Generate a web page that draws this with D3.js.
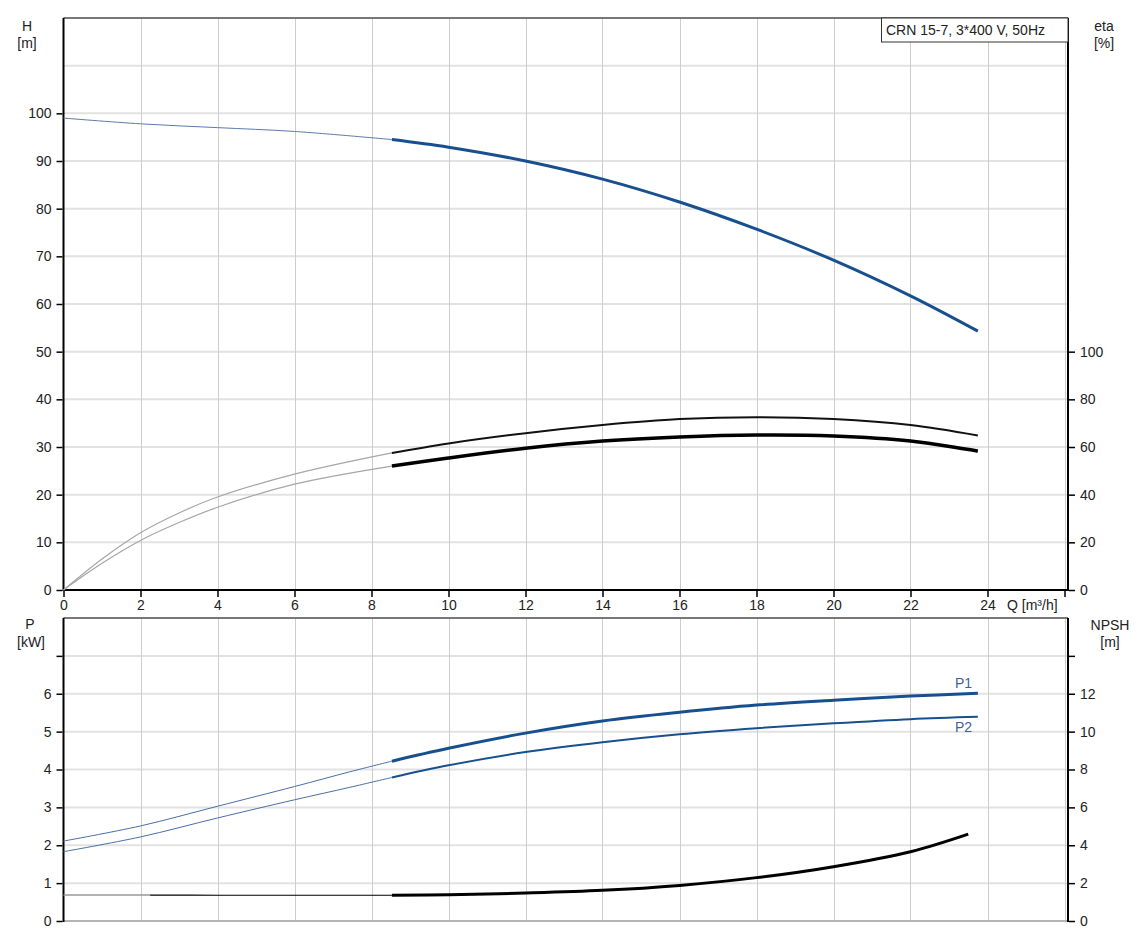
<!DOCTYPE html>
<html><head><meta charset="utf-8">
<script src="https://cdn.jsdelivr.net/npm/d3@7"></script>
<style>
body{margin:0;background:#fff;}
text{font-family:"Liberation Sans",Arial,sans-serif;font-size:14px;fill:#222;}
</style></head>
<body>
<svg id="c" width="1139" height="942"></svg>
<script>
// ---- data ----
const qTicks = [0,2,4,6,8,10,12,14,16,18,20,22,24,26];
const qLabels = ["0","2","4","6","8","10","12","14","16","18","20","22","24",""];
const hTicks = [0,10,20,30,40,50,60,70,80,90,100];
const etaTicks = [0,20,40,60,80,100];
const pTicks = [0,1,2,3,4,5,6,7];
const pLabels = ["0","1","2","3","4","5","6",""];
const npshTicks = [0,2,4,6,8,10,12,14];
const npshLabels = ["0","2","4","6","8","10","12",""];

const splitQ = 8.53;
const qH = [0,2,4,6,8.53,10,12,14,16,18,20,22,23.75];
const headH = [99.0,97.8,97.0,96.2,94.5,92.9,90.0,86.2,81.4,75.7,69.2,61.7,54.3];

const qEta = [0,1,2,3,4,6,8.53,10,12,14,16,18,20,22,23.75];
const etaUpper = [0,13,24,32.3,39,48.6,57.5,61.5,65.8,69.2,71.7,72.5,71.7,69.2,64.8];
const etaLower = [0,11.2,20.8,28.3,34.7,44.4,52,55.4,59.5,62.5,64.2,65,64.6,62.5,58.3];

const qP = [0,2,4,6,7.44,8.53,10,12,14,16,18,20,22,23.75];
const p1 = [2.11,2.51,3.03,3.55,3.94,4.22,4.56,4.96,5.28,5.51,5.70,5.83,5.94,6.01];
const p2 = [1.83,2.22,2.72,3.20,3.53,3.79,4.11,4.46,4.72,4.93,5.09,5.22,5.33,5.39];

const qN = [0,2.25,4,6,8.53,10,12,14,16,18,20,22,23.5];
const npsh = [1.37,1.37,1.36,1.36,1.36,1.39,1.48,1.62,1.88,2.29,2.87,3.66,4.59];
const npshGrayEnd = 2.25;

const title = "CRN 15-7, 3*400 V, 50Hz";

// ---- layout ----
const svg = d3.select("#c");
const L = 63.5, R = 1068;
const x = d3.scaleLinear().domain([0,26]).range([L, 1064.5]);
const T1 = 18, B1 = 590;
const yH = d3.scaleLinear().domain([0,120]).range([B1, T1]);
const yEta = d3.scaleLinear().domain([0,240]).range([B1, T1]);
const T2 = 618, B2 = 921;
const yP = d3.scaleLinear().domain([0,8]).range([B2, T2]);
const yN = d3.scaleLinear().domain([0,16]).range([B2, T2]);

const blue = "#18508f";

function grid(yScale, vals, top, bottom){
  const g = svg.append("g");
  g.selectAll(".h").data(vals).enter().append("line")
    .attr("x1", L).attr("x2", R)
    .attr("y1", d=>yScale(d)).attr("y2", d=>yScale(d))
    .attr("stroke", "#e2e2e2").attr("stroke-width", 2);
  g.selectAll(".v").data(qTicks.slice(1)).enter().append("line")
    .attr("x1", d=>Math.round(x(d))+0.5).attr("x2", d=>Math.round(x(d))+0.5)
    .attr("y1", top).attr("y2", bottom)
    .attr("stroke", "#cdcdcd").attr("stroke-width", 1);
}
grid(yH, d3.range(10,121,10), T1, B1);
grid(yP, d3.range(1,9,1), T2, B2);

// ---- frames ----
function frame(top, bottom, bottomColor){
  svg.append("line").attr("x1",L).attr("x2",R).attr("y1",top).attr("y2",top)
    .attr("stroke","#555").attr("stroke-width",1.5);
  svg.append("line").attr("x1",L).attr("x2",R).attr("y1",bottom).attr("y2",bottom)
    .attr("stroke",bottomColor).attr("stroke-width",2);
  svg.append("line").attr("x1",L).attr("x2",L).attr("y1",top).attr("y2",bottom+1)
    .attr("stroke","#000").attr("stroke-width",2);
  svg.append("line").attr("x1",R).attr("x2",R).attr("y1",top).attr("y2",bottom+1)
    .attr("stroke","#000").attr("stroke-width",2);
}
frame(T1, B1, "#000");
frame(T2, B2, "#b4b4b4");

// ---- axes ----
function styleAxis(g){
  g.select(".domain").remove();
  g.selectAll(".tick line").attr("stroke","#000").attr("stroke-width",1.5);
  g.selectAll(".tick text").attr("fill","#222").style("font-size","14px")
    .style("font-family","'Liberation Sans',Arial,sans-serif");
}
svg.append("g").attr("transform",`translate(${L-1},0)`)
  .call(d3.axisLeft(yH).tickValues(hTicks).tickSize(6).tickPadding(5)).call(styleAxis);
svg.append("g").attr("transform",`translate(${R+1},0)`)
  .call(d3.axisRight(yEta).tickValues(etaTicks).tickSize(6).tickPadding(5)).call(styleAxis);
svg.append("g").attr("transform",`translate(0,${B1+1})`)
  .call(d3.axisBottom(x).tickValues(qTicks).tickFormat((d,i)=>qLabels[i]).tickSize(6).tickPadding(3)).call(styleAxis);
svg.append("g").attr("transform",`translate(${L-1},0)`)
  .call(d3.axisLeft(yP).tickValues(pTicks).tickFormat((d,i)=>pLabels[i]).tickSize(6).tickPadding(5)).call(styleAxis);
svg.append("g").attr("transform",`translate(${R+1},0)`)
  .call(d3.axisRight(yN).tickValues(npshTicks).tickFormat((d,i)=>npshLabels[i]).tickSize(6).tickPadding(5)).call(styleAxis);

// ---- axis titles ----
function label(txt, cx, y, anchor){
  svg.append("text").attr("x",cx).attr("y",y).attr("text-anchor",anchor||"middle").text(txt);
}
label("H", 27, 31); label("[m]", 27, 48);
label("eta", 1104, 31); label("[%]", 1104, 48);
label("P", 30, 629); label("[kW]", 31, 647);
label("NPSH", 1110, 630); label("[m]", 1110, 647);
label("Q [m³/h]", 1007, 610, "start");

// ---- title box ----
svg.append("rect").attr("x",881.5).attr("y",T1).attr("width",R-881.5).attr("height",24)
  .attr("fill","#fff").attr("stroke","#333").attr("stroke-width",1);
label(title, 886, 35, "start");

// ---- curves ----
function draw(qs, vs, yScale, from, to, color, width){
  const pts = qs.map((q,i)=>[q,vs[i]]).filter(p=>p[0]>=from-1e-9 && p[0]<=to+1e-9);
  const line = d3.line().x(d=>x(d[0])).y(d=>yScale(d[1])).curve(d3.curveCatmullRom.alpha(0.5));
  svg.append("path").attr("d", line(pts)).attr("fill","none")
    .attr("stroke",color).attr("stroke-width",width).attr("stroke-linecap","butt");
}
// H
draw(qH, headH, yH, 0, splitQ, "#5a7bab", 1);
draw(qH, headH, yH, splitQ, 99, blue, 3);
// eta
draw(qEta, etaUpper, yEta, 0, splitQ, "#a6a6a6", 1.2);
draw(qEta, etaLower, yEta, 0, splitQ, "#a6a6a6", 1.2);
draw(qEta, etaUpper, yEta, splitQ, 99, "#111", 2);
draw(qEta, etaLower, yEta, splitQ, 99, "#000", 3.5);
// P
draw(qP, p1, yP, 0, splitQ, "#4a6fa5", 1);
draw(qP, p2, yP, 0, splitQ, "#4a6fa5", 1);
draw(qP, p1, yP, splitQ, 99, blue, 3);
draw(qP, p2, yP, splitQ, 99, blue, 2);
// NPSH
draw(qN, npsh, yN, 0, npshGrayEnd, "#999", 1.5);
draw(qN, npsh, yN, npshGrayEnd, splitQ, "#000", 1.2);
draw(qN, npsh, yN, splitQ, 99, "#000", 3);

// curve labels
svg.append("text").attr("x",955).attr("y",688).style("fill","#3f5f98").text("P1");
svg.append("text").attr("x",955).attr("y",732).style("fill","#3f5f98").text("P2");
</script>
</body></html>
